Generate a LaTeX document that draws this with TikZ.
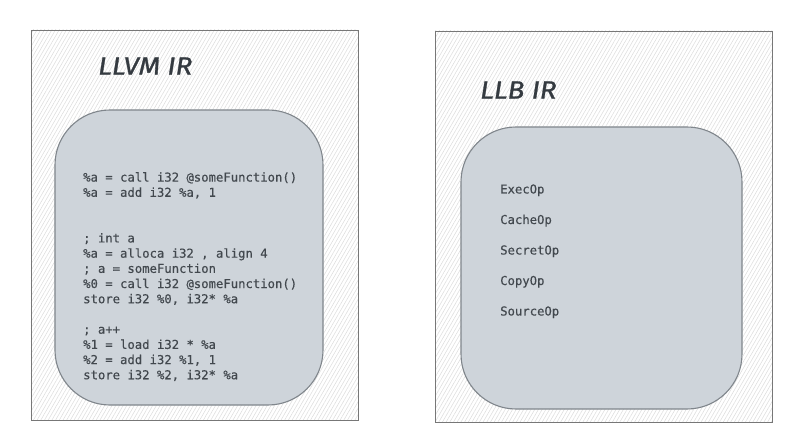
\documentclass[tikz,border=0pt]{standalone}
\usepackage{fontspec}
\setmainfont{Fira Sans}
\setmonofont{DejaVu Sans Mono}
\newfontfamily\codefont[FakeBold=0.35]{DejaVu Sans Mono}
\newfontfamily\titlefont[FakeBold=1.2,FakeStretch=1.12]{Fira Sans}
\usetikzlibrary{patterns.meta}

\definecolor{framegray}{HTML}{777777}
\definecolor{hatchgray}{HTML}{DCDCDC}
\definecolor{bodyfill}{HTML}{CED4DA}
\definecolor{bodyline}{HTML}{80868C}
\definecolor{codegray}{HTML}{42484E}
\definecolor{titleink}{HTML}{343A40}

\begin{document}
\begin{tikzpicture}
  [x=1bp,y=-1bp,
   panel/.style={draw=framegray,line width=0.8bp,pattern={Lines[angle=60,distance=3.2bp,line width=0.5bp]},pattern color=hatchgray},
   body/.style={draw=bodyline,fill=bodyfill,line width=1.1bp,rounded corners=55bp},
   title/.style={font=\titlefont\itshape\fontsize{25}{30}\selectfont,text=titleink,anchor=west,inner sep=0pt},
   code/.style={font=\codefont\fontsize{12.3}{15.25}\selectfont,text=codegray,align=left,anchor=north west,inner sep=0pt},
   op/.style={code,anchor=base west}]

  \fill[white] (0,0) rectangle (802,446);
  \useasboundingbox (0,0) rectangle (802,446);

  % LLVM side
  \node[panel,minimum width=327bp,minimum height=390bp] (llvm) at (194.5,225) {};
  \node[body,minimum width=268bp,minimum height=295bp] (llvmbody) at (189,257.5) {};
  \node[title] (llvmtitle) at (98,66) {LLVM IR};
  \node[code] (llvmcode) at (83,172) {\%a = call i32 @someFunction()\\
    \%a = add i32 \%a, 1\\[30.5bp]
    ; int a\\
    \%a = alloca i32 , align 4\\
    ; a = someFunction\\
    \%0 = call i32 @someFunction()\\
    store i32 \%0, i32* \%a\\[15.25bp]
    ; a++\\
    \%1 = load i32 * \%a\\
    \%2 = add i32 \%1, 1\\
    store i32 \%2, i32* \%a};

  % LLB side
  \node[panel,minimum width=337bp,minimum height=391bp] (llb) at (603.5,226.5) {};
  \node[body,minimum width=281bp,minimum height=282bp] (llbbody) at (601.5,268) {};
  \node[title] (llbtitle) at (480,90) {LLB IR};
  \node[op] (execop) at (500,193.5) {ExecOp};
  \node[op] (cacheop) at (500,224) {CacheOp};
  \node[op] (secretop) at (500,254.5) {SecretOp};
  \node[op] (copyop) at (500,285) {CopyOp};
  \node[op] (sourceop) at (500,315.5) {SourceOp};
\end{tikzpicture}
\end{document}
